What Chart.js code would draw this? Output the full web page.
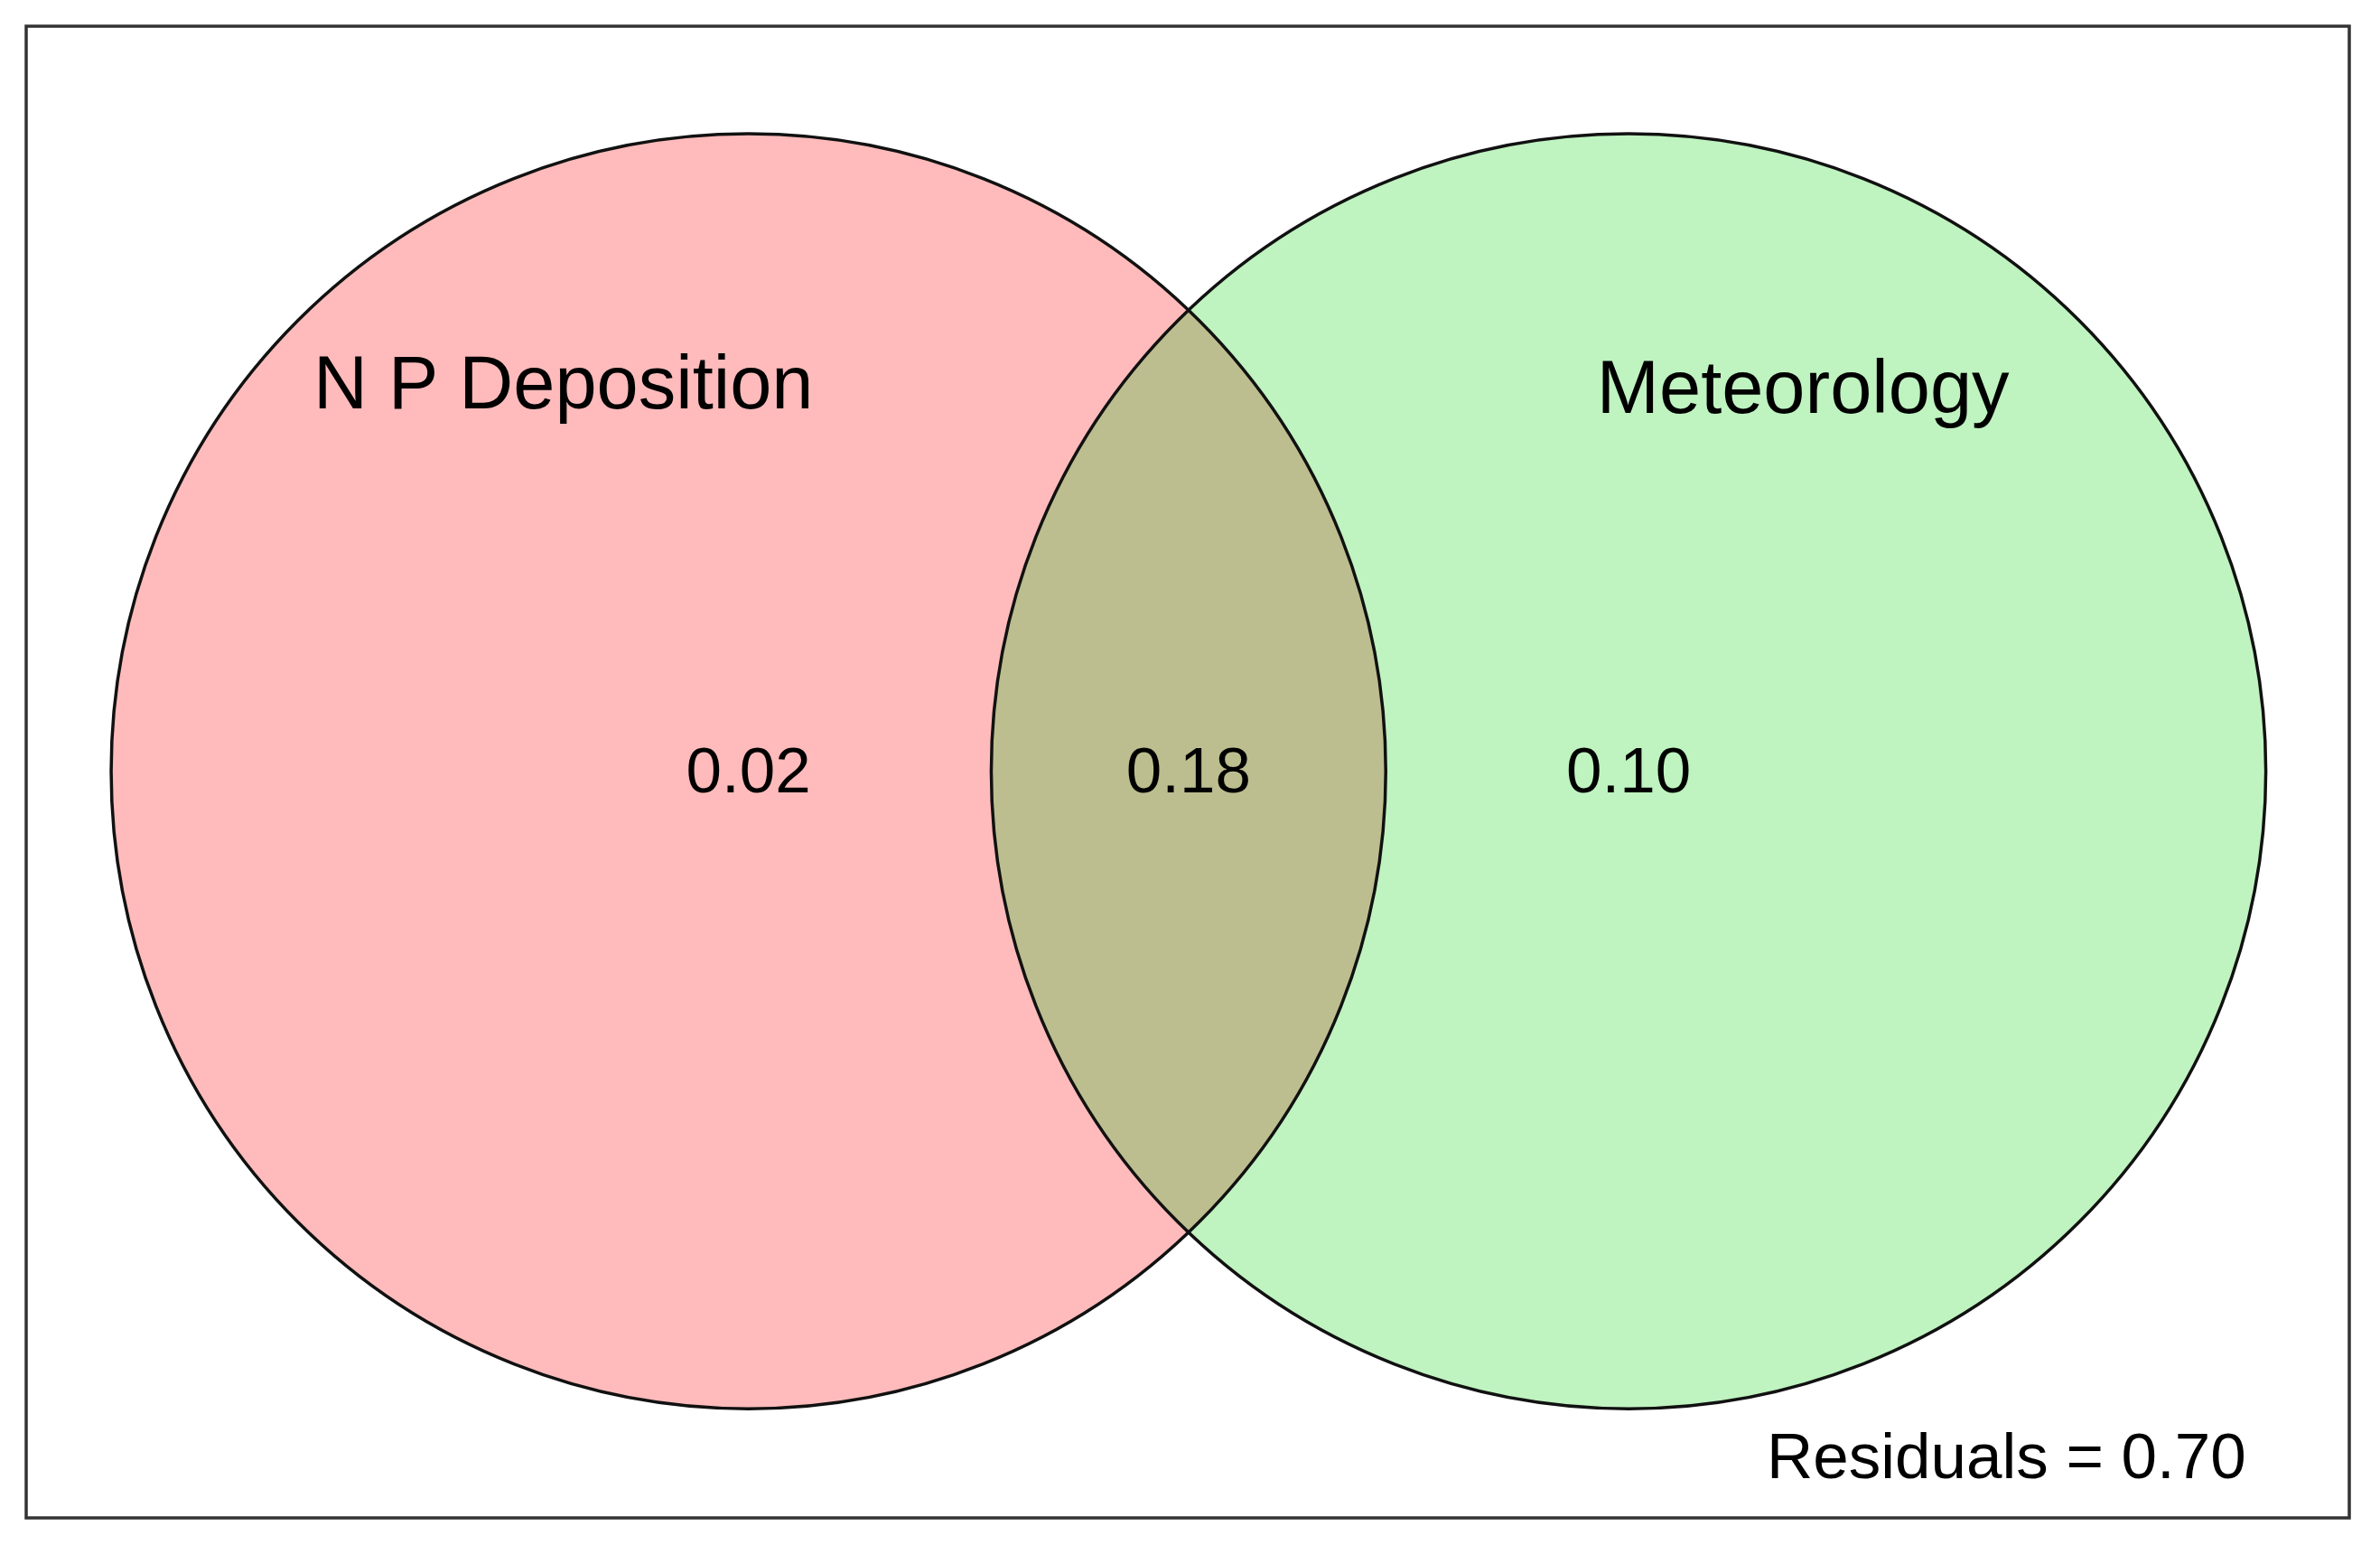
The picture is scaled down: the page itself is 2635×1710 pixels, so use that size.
<!DOCTYPE html>
<html>
<head>
<meta charset="utf-8">
<script src="https://cdn.jsdelivr.net/npm/chart.js@4"></script>
<style>
  html, body { margin: 0; padding: 0; background: #fff; }
  #wrap { width: 2635px; height: 1710px; }
</style>
</head>
<body>
<div id="wrap"><canvas id="venn"></canvas></div>
<script>
// sets (centre in plot units, radius in plot units)
const setNames = ["N P Deposition", "Meteorology"];
const centersX = [476, 1056];
const centersY = [491, 491];
const radii = [420, 420];
const nameX = [354, 1171];
const nameY = [238, 241];
// region values
const regionLabels = ["0.02", "0.18", "0.10"];
const regionX = [476, 766, 1056];
const regionY = [493, 493, 493];
const residualText = "Residuals = 0.70";

const fills = ["#FFBBBB", "#BFF3C0"];
const overlapFill = "#BDBE8F";

const vennPlugin = {
  id: 'venn',
  afterDatasetsDraw(chart) {
    const ctx = chart.ctx, xs = chart.scales.x, ys = chart.scales.y;
    const px = v => xs.getPixelForValue(v), py = v => ys.getPixelForValue(v);
    const pr = (r) => Math.abs(px(r) - px(0));
    const circle = i => { ctx.beginPath(); ctx.arc(px(centersX[i]), py(centersY[i]), pr(radii[i]), 0, Math.PI * 2); };
    ctx.save();
    for (let i = 0; i < 2; i++) { circle(i); ctx.fillStyle = fills[i]; ctx.fill(); }
    ctx.save(); circle(0); ctx.clip(); circle(1); ctx.fillStyle = overlapFill; ctx.fill(); ctx.restore();
    ctx.lineWidth = 3.5; ctx.strokeStyle = '#111';
    for (let i = 0; i < 2; i++) { circle(i); ctx.stroke(); }
    // frame
    const a = chart.chartArea;
    ctx.lineWidth = 3.5; ctx.strokeStyle = '#333';
    ctx.strokeRect(a.left, a.top, a.right - a.left, a.bottom - a.top);
    ctx.fillStyle = '#000';
    ctx.textAlign = 'center'; ctx.textBaseline = 'middle';
    ctx.font = '83px "Liberation Sans", Arial, sans-serif';
    for (let i = 0; i < 2; i++) ctx.fillText(setNames[i], px(nameX[i]), py(nameY[i]));
    ctx.font = '71px "Liberation Sans", Arial, sans-serif';
    regionLabels.forEach((t, i) => ctx.fillText(t, px(regionX[i]), py(regionY[i])));
    ctx.textAlign = 'right';
    ctx.fillText(residualText, px(1463), py(945));
    ctx.restore();
  }
};

new Chart(document.getElementById('venn'), {
  type: 'scatter',
  data: { datasets: [{ data: centersX.map((x, i) => ({ x: x, y: centersY[i] })), pointRadius: 0 }] },
  options: {
    responsive: true,
    maintainAspectRatio: false,
    animation: false,
    layout: { padding: { left: 29, right: 34, top: 29, bottom: 30 } },
    plugins: { legend: { display: false }, tooltip: { enabled: false } },
    scales: {
      x: { min: 0, max: 1531, display: false },
      y: { min: 0, max: 983, reverse: true, display: false }
    }
  },
  plugins: [vennPlugin]
});
</script>
</body>
</html>
